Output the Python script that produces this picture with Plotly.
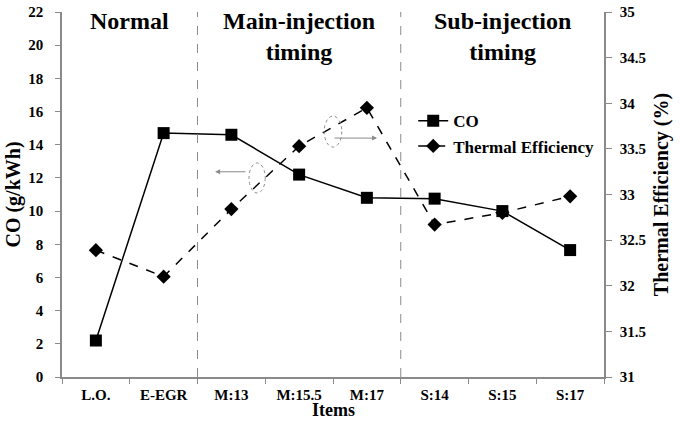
import plotly.graph_objects as go

items = ["L.O.", "E-EGR", "M:13", "M:15.5", "M:17", "S:14", "S:15", "S:17"]
co = [2.2, 14.7, 14.6, 12.2, 10.8, 10.75, 10.0, 7.65]
thermal_eff = [32.39, 32.1, 32.84, 33.53, 33.95, 32.67, 32.8, 32.98]
group_labels = ["Normal", "Main-injection<br>timing", "Sub-injection<br>timing"]
group_centers = [0.5, 3, 6]
group_bounds = [1.5, 4.5]

FONT = "Liberation Serif"
GRAY = "#8a8a8a"

fig = go.Figure()
fig.add_trace(go.Scatter(
    x=items, y=co, name="CO", mode="lines+markers",
    line=dict(color="black", width=1.5),
    marker=dict(symbol="square", size=12, color="black"),
    yaxis="y"))
fig.add_trace(go.Scatter(
    x=items, y=thermal_eff, name="Thermal Efficiency", mode="lines+markers",
    line=dict(color="black", width=1.5, dash="dash"),
    marker=dict(symbol="diamond", size=11, color="black"),
    yaxis="y2"))

for b in group_bounds:
    fig.add_shape(type="line", xref="x", yref="paper", x0=b, x1=b, y0=0, y1=1,
                  line=dict(color=GRAY, width=1, dash="dash"))

for lab, cx in zip(group_labels, group_centers):
    single = "<br>" not in lab
    fig.add_annotation(x=cx, xref="x", y=0.975 if single else 0.933, yref="paper",
                       text=lab, showarrow=False, yanchor="middle",
                       font=dict(family=FONT, size=24, color="black", weight="bold"))

# ellipses and arrows indicating axis
fig.add_shape(type="circle", xref="x", yref="y", x0=2.26, x1=2.50, y0=11.09, y1=12.9,
              line=dict(color=GRAY, width=1, dash="dot"))
fig.add_shape(type="circle", xref="x", yref="y", x0=3.37, x1=3.63, y0=13.86, y1=15.73,
              line=dict(color=GRAY, width=1, dash="dot"))
fig.add_annotation(x=1.76, y=12.37, xref="x", yref="y", ax=2.23, ay=12.37,
                   axref="x", ayref="y", showarrow=True, arrowhead=2, arrowsize=1,
                   arrowwidth=1, arrowcolor=GRAY, text="")
fig.add_annotation(x=4.15, y=14.4, xref="x", yref="y", ax=3.5, ay=14.4,
                   axref="x", ayref="y", showarrow=True, arrowhead=2, arrowsize=1,
                   arrowwidth=1, arrowcolor=GRAY, text="")

tickfont = dict(family=FONT, size=15, color="black", weight="bold")
titlefont = dict(family=FONT, size=20, color="black", weight="bold")

# x-axis title ("Items")
fig.add_annotation(x=0.5, xref="paper", y=-0.09, yref="paper", text="Items",
                   showarrow=False, yanchor="middle",
                   font=dict(family=FONT, size=18, color="black", weight="bold"))

fig.update_layout(
    width=681, height=421, autosize=False,
    margin=dict(l=62, r=77, t=12, b=44, autoexpand=False),
    paper_bgcolor="white", plot_bgcolor="white",
    showlegend=True,
    legend=dict(x=0.648, y=0.75, xanchor="left", yanchor="top",
                bgcolor="rgba(0,0,0,0)", font=dict(family=FONT, size=17, color="black", weight="bold"),
                tracegroupgap=0, itemwidth=30),
    xaxis=dict(type="category", categoryorder="array", categoryarray=items,
               range=[-0.5, 7.5], tickson="boundaries", ticks="outside", ticklen=5,
               tickcolor=GRAY, showline=True, linecolor=GRAY, linewidth=1.5,
               showgrid=False, zeroline=False, tickfont=tickfont, ticklabelstandoff=3,
               automargin=False),
    yaxis=dict(range=[0, 22], dtick=2, ticks="outside", ticklen=5, tickcolor=GRAY,
               showline=True, linecolor=GRAY, linewidth=1.5, showgrid=False, zeroline=False,
               tickfont=tickfont, ticklabelstandoff=9, automargin=False,
               title=dict(text="CO (g/kWh)", font=titlefont, standoff=2)),
    yaxis2=dict(range=[31, 35], dtick=0.5, overlaying="y", side="right", ticks="outside",
                ticklen=6, tickcolor=GRAY, showline=True, linecolor=GRAY, linewidth=1.5,
                showgrid=False, zeroline=False, tickfont=tickfont, ticklabelstandoff=5,
                automargin=False,
                title=dict(text="Thermal Efficiency (%)", font=titlefont, standoff=9)),
)

fig.write_html("out.html")
